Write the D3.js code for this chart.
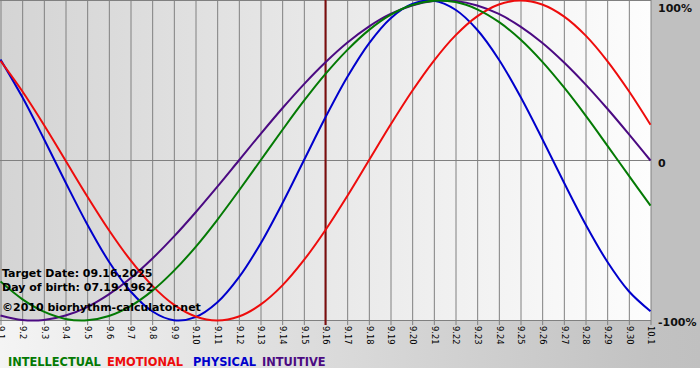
<!DOCTYPE html>
<html><head><meta charset="utf-8">
<script src="https://cdn.jsdelivr.net/npm/d3@7"></script>
<style>body{margin:0;background:#fff;} svg{display:block;}</style>
</head><body>
<svg id="c" width="700" height="380"></svg>
<script>
// ---- data ----
const days = ["9.1","9.2","9.3","9.4","9.5","9.6","9.7","9.8","9.9","9.10","9.11","9.12","9.13","9.14","9.15","9.16","9.17","9.18","9.19","9.20","9.21","9.22","9.23","9.24","9.25","9.26","9.27","9.28","9.29","9.30","10.1"];
const intellectual = [-0.756,-0.866,-0.945,-0.990,-0.999,-0.972,-0.910,-0.815,-0.690,-0.541,-0.372,-0.189,0,0.189,0.372,0.541,0.690,0.815,0.910,0.972,0.999,0.990,0.945,0.866,0.756,0.618,0.458,0.282,0.095,-0.095,-0.282];
const emotional = [0.623,0.434,0.223,0,-0.223,-0.434,-0.623,-0.782,-0.901,-0.975,-1,-0.975,-0.901,-0.782,-0.623,-0.434,-0.223,0,0.223,0.434,0.623,0.782,0.901,0.975,1,0.975,0.901,0.782,0.623,0.434,0.223];
const physical = [0.631,0.398,0.136,-0.136,-0.398,-0.631,-0.817,-0.942,-0.998,-0.979,-0.888,-0.731,-0.520,-0.270,0,0.270,0.520,0.731,0.888,0.979,0.998,0.942,0.817,0.631,0.398,0.136,-0.136,-0.398,-0.631,-0.817,-0.942];
const intuitive = [-0.969,-0.997,-0.997,-0.969,-0.916,-0.837,-0.736,-0.614,-0.476,-0.325,-0.165,0,0.165,0.325,0.476,0.614,0.736,0.837,0.916,0.969,0.997,0.997,0.969,0.916,0.837,0.736,0.614,0.476,0.325,0.165,0];
const yTickValues = [1, 0, -1];
const yTickLabels = ["100%", "0", "-100%"];
const targetDay = "9.16";
const seriesNames = ["INTELLECTUAL", "EMOTIONAL", "PHYSICAL", "INTUITIVE"];
const infoLines = ["Target Date: 09.16.2025", "Day of birth: 07.19.1962", "\u00A92010 biorhythm-calculator.net"];

// ---- styles ----
const colors = {INTELLECTUAL:"#047a04", EMOTIONAL:"#ee0c0c", PHYSICAL:"#0000cc", INTUITIVE:"#4b0a82"};
const seriesData = {INTELLECTUAL:intellectual, EMOTIONAL:emotional, PHYSICAL:physical, INTUITIVE:intuitive};

const svg = d3.select("#c");
const W = 700, H = 380;
const plotW = 651, plotH = 321;

const defs = svg.append("defs");
const gOuter = defs.append("linearGradient").attr("id","outer").attr("x1","0").attr("x2","1").attr("y1","0").attr("y2","0");
gOuter.append("stop").attr("offset","0").attr("stop-color","#f4f4f4");
gOuter.append("stop").attr("offset","0.93").attr("stop-color","#c2c2c2");
gOuter.append("stop").attr("offset","1").attr("stop-color","#c0c0c0");
const gPlot = defs.append("linearGradient").attr("id","plotbg").attr("x1","0").attr("x2","1").attr("y1","0").attr("y2","0");
gPlot.append("stop").attr("offset","0").attr("stop-color","#d4d4d4");
gPlot.append("stop").attr("offset","1").attr("stop-color","#fdfdfd");

svg.append("rect").attr("x",0).attr("y",0).attr("width",W).attr("height",368).attr("fill","url(#outer)");
svg.append("rect").attr("x",651).attr("y",0).attr("width",49).attr("height",321).attr("fill","#c0c0c0");
svg.append("rect").attr("x",0).attr("y",368).attr("width",W).attr("height",12).attr("fill","#ffffff");
svg.append("rect").attr("x",0).attr("y",0).attr("width",plotW).attr("height",plotH).attr("fill","url(#plotbg)");

const x = d3.scalePoint().domain(days).range([0.5, 650.5]);
const y = d3.scaleLinear().domain([-1, 1]).range([320.5, 0.5]);

// vertical grid + tick marks via axis
const xAxis = d3.axisBottom(x).tickSize(325).tickFormat(d => d);
const ax = svg.append("g").attr("transform","translate(0,0)").call(xAxis);
ax.select(".domain").remove();
ax.selectAll(".tick line").attr("stroke","#808080").attr("stroke-width",1);
ax.selectAll(".tick text")
  .attr("fill","#000")
  .attr("font-family","'DejaVu Sans', Verdana, sans-serif")
  .attr("font-size","8.3px")
  .attr("text-anchor","start")
  .attr("dy","0.32em")
  .attr("y",0)
  .attr("transform","translate(0,326) rotate(90)");

// horizontal lines: top border, zero line, bottom border
svg.append("g").selectAll("line").data(yTickValues).join("line")
  .attr("x1",0).attr("x2",plotW)
  .attr("y1",d=>y(d)).attr("y2",d=>y(d))
  .attr("stroke","#808080").attr("stroke-width",1);

// right-side labels
svg.append("g").selectAll("text").data(yTickValues).join("text")
  .attr("x",658)
  .attr("y",(d,i)=>y(d) + [11, 6, 5.5][i])
  .attr("font-family","'DejaVu Sans', Verdana, sans-serif")
  .attr("font-weight","bold").attr("font-size","11px").attr("fill","#111")
  .text((d,i)=>yTickLabels[i]);

// target day line
svg.append("line")
  .attr("x1",x(targetDay)).attr("x2",x(targetDay))
  .attr("y1",0).attr("y2",325)
  .attr("stroke","#7d0d0d").attr("stroke-width",2);

// curves
const line = d3.line().x((d,i)=>x(days[i])).y(d=>y(d)).curve(d3.curveCatmullRom.alpha(0.5));
const drawOrder = ["INTUITIVE","PHYSICAL","EMOTIONAL","INTELLECTUAL"];
svg.append("g").selectAll("path").data(drawOrder).join("path")
  .attr("d", k => line(seriesData[k]))
  .attr("fill","none").attr("stroke", k => colors[k]).attr("stroke-width",2);

// info text
svg.append("g").selectAll("text").data(infoLines).join("text")
  .attr("x",2).attr("y",(d,i)=>[276.5,290.5,310.5][i])
  .attr("font-family","'DejaVu Sans', Verdana, sans-serif")
  .attr("font-weight","bold").attr("font-size","11px").attr("fill","#000")
  .text(d=>d);

// legend
const legendX = [8, 107, 193, 262];
svg.append("g").selectAll("text").data(seriesNames).join("text")
  .attr("x",(d,i)=>legendX[i]).attr("y",366)
  .attr("font-family","'DejaVu Sans', Verdana, sans-serif")
  .attr("font-weight","bold").attr("font-size","11.4px")
  .attr("fill", d => colors[d])
  .text(d=>d);
</script>
</body></html>
